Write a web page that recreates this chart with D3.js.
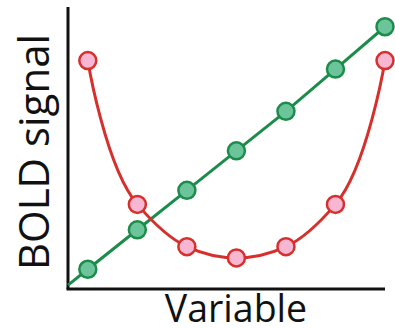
<!DOCTYPE html>
<html lang="en">
  <head>
    <meta charset="UTF-8" />
    <title>BOLD signal</title>
    <script src="https://d3js.org/d3.v7.min.js" charset="utf-8"></script>
    <style>
      body { margin: 0; background: #fff; }
      text { font-family: "Open Sans", sans-serif; fill: #111; }
    </style>
  </head>
  <body>
    <div id="chart"></div>
    <script>
      const steps = [1, 2, 3, 4, 5, 6, 7];
      const greenValues = [7, 21, 35, 49, 63, 78, 93];
      const redValues = [81, 30, 15, 11, 15, 30, 81];

      const width = 395;
      const height = 328;
      const margin = { left: 68, right: 10, top: 7, bottom: 39 };

      const x = d3.scaleLinear()
        .domain([0.6, 7])
        .range([margin.left, width - margin.right]);
      const y = d3.scaleLinear()
        .domain([0, 100])
        .range([height - margin.bottom, margin.top]);

      const svg = d3.select("#chart")
        .append("svg")
        .attr("width", width)
        .attr("height", height);

      // axes, no ticks
      svg.append("line")
        .attr("x1", x(0.6)).attr("x2", x(0.6))
        .attr("y1", y(100)).attr("y2", y(0))
        .attr("stroke", "#111").attr("stroke-width", 3);
      svg.append("line")
        .attr("x1", x(0.6) - 1.5).attr("x2", x(7))
        .attr("y1", y(0)).attr("y2", y(0))
        .attr("stroke", "#111").attr("stroke-width", 3);

      // green line runs from the origin through all points
      const slope = greenValues[1] - greenValues[0];
      const greenStart = greenValues[0] - slope * (steps[0] - 0.6);
      const greenLine = [[0.6, greenStart]].concat(steps.map((s, i) => [s, greenValues[i]]));

      svg.append("path")
        .attr("d", d3.line().x(d => x(d[0])).y(d => y(d[1]))(greenLine))
        .attr("fill", "none")
        .attr("stroke", "#1b8c49")
        .attr("stroke-width", 3);

      svg.append("path")
        .attr("d", d3.line().curve(d3.curveCatmullRom.alpha(1))
          .x((d, i) => x(steps[i])).y(d => y(d))(redValues))
        .attr("fill", "none")
        .attr("stroke", "#d62f2c")
        .attr("stroke-width", 3);

      svg.selectAll(".gdot")
        .data(greenValues)
        .enter()
        .append("circle")
        .attr("cx", (d, i) => x(steps[i]))
        .attr("cy", d => y(d))
        .attr("r", 8.5)
        .attr("fill", "#6cc49b")
        .attr("stroke", "#1b8c49")
        .attr("stroke-width", 2.5);

      svg.selectAll(".rdot")
        .data(redValues)
        .enter()
        .append("circle")
        .attr("cx", (d, i) => x(steps[i]))
        .attr("cy", d => y(d))
        .attr("r", 8.5)
        .attr("fill", "#f7b6d1")
        .attr("stroke", "#d62f2c")
        .attr("stroke-width", 2.5);

      svg.append("text")
        .attr("x", 236)
        .attr("y", 322)
        .attr("text-anchor", "middle")
        .attr("font-size", 37.5)
        .text("Variable");

      svg.append("text")
        .attr("transform", "translate(49,152) rotate(-90)")
        .attr("text-anchor", "middle")
        .attr("font-size", 42)
        .text("BOLD signal");
    </script>
  </body>
</html>
